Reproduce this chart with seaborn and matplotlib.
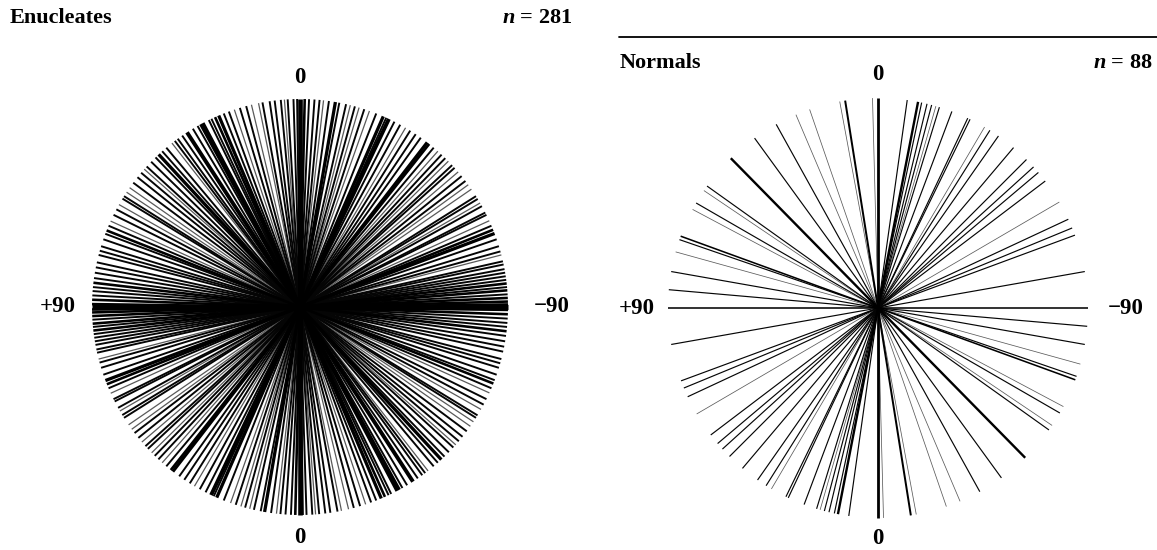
import numpy as np
import pandas as pd
import matplotlib
matplotlib.use("Agg")
import matplotlib.pyplot as plt
from matplotlib.lines import Line2D
import seaborn as sns

# ---- data: axial orientations (deg, 0 = vertical, + = toward left) and counts ----
enuc_angles = [0, 0.8, 1.8, 3.4, 4.3, 5.3, 7, 8.4, 10.4, 11.5, 13.5, 15, 16.8, 18.4, 20, 21.5,
               23, 24.1, 25.2, 26, 27.9, 28.6, 29.5, 31, 32.9, 34.5, 36, 37, 38, 40, 41.5, 42.8,
               44, 45.7, 47.5, 48.5, 49.8, 51.4, 53.3, 55, 56.5, 57.8, 58.6, 60.5, 62, 63.7, 65.6,
               67, 68.4, 69.4, 71, 73, 74.3, 75.5, 77.6, 79, 80.5, 82, 83.3, 84.5, 85.6, 86.8, 88,
               89.2, 90,
               -1.3, -2.5, -4, -5.4, -6.5, -8, -9.8, -10.9, -12.8, -14, -15.3, -16.5, -18, -19.5,
               -21.5, -23.6, -24.5, -25.3, -27, -28.8, -30.5, -32, -33.8, -35.5, -37.7, -38.4, -40,
               -41.5, -42.9, -44.3, -45.5, -47, -48, -49.5, -51, -52.7, -54, -55.5, -57.8, -58.7,
               -60, -61, -63, -63.7, -65.5, -67, -68.2, -69.3, -71, -73, -74.5, -75.5, -77.3,
               -78.2, -79.5, -80.5, -81.5, -82.5, -83.5, -84.5, -85.4, -86.5, -87.5, -88.5, -89.3]
enuc_counts = [6, 2, 2, 2, 1, 2, 2, 2, 2, 1, 1, 2, 2, 1, 2, 2,
               4, 3, 2, 2, 5, 3, 2, 2, 5, 2, 2, 2, 1, 2, 2, 4,
               2, 2, 2, 1, 2, 2, 2, 1, 1, 2, 2, 1, 2, 2, 1,
               2, 3, 2, 2, 2, 2, 2, 2, 2, 2, 2, 3, 2, 2, 2, 3,
               3, 7,
               3, 2, 2, 2, 1, 2, 4, 2, 2, 1, 2, 1, 2, 1,
               2, 4, 2, 5, 2, 2, 1, 2, 2, 2, 4, 3, 2,
               1, 2, 2, 1, 2, 2, 1, 2, 2, 1, 1, 2, 2,
               1, 2, 2, 2, 1, 2, 3, 4, 2, 2, 2, 1, 2,
               2, 2, 2, 2, 2, 3, 2, 3, 2, 3, 3, 3]

norm_angles = [0, 1.5, 9, 10.5, 19, 23, 29, 36, 44.5, 54.5, 56, 60, 62, 70, 71, 74.5, 80, 85, 90,
               -8, -11, -12, -13.5, -14.8, -16, -17, -20.6, -25.3, -26, -30.5, -32.2, -35,
               -40.2, -45, -47.8, -49.8, -52.8, -59.7, -65, -67.6, -69.7, -80]
norm_counts = [6, 1, 4, 1, 1, 1, 2, 2, 5, 2, 1, 2, 1, 3, 2, 1, 2, 2, 3,
               2, 5, 2, 2, 2, 1, 2, 2, 2, 2, 1, 2, 2,
               2, 2, 2, 2, 2, 1, 2, 2, 2, 2]

panel_titles = ["Enucleates", "Normals"]
panel_n = ["281", "88"]
dir_labels = ["0", "+90", "\u221290", "0"]


def segments(angles, counts):
    rows = []
    for i, (a, c) in enumerate(zip(angles, counts)):
        t = np.deg2rad(a)
        dx, dy = -np.sin(t), np.cos(t)
        rows.append({"line": i, "x": dx, "y": dy, "count": c})
        rows.append({"line": i, "x": -dx, "y": -dy, "count": c})
    return pd.DataFrame(rows)


sns.set_style("white")
plt.rcParams["font.family"] = ["Liberation Serif", "DejaVu Serif"]
plt.rcParams["text.color"] = "black"
plt.rcParams["mathtext.fontset"] = "custom"
plt.rcParams["mathtext.it"] = "Liberation Serif:italic:bold"
plt.rcParams["mathtext.rm"] = "Liberation Serif:bold"

W, H = 1157, 550
fig = plt.figure(figsize=(W / 100, H / 100), dpi=100)

palette = {1: "#5a5a5a", 2: "#050505", 3: "black", 4: "black", 5: "black", 6: "black", 7: "black"}

# (center_x, center_y, radius) in pixels
layouts = [(300, 307, 208), (878, 308, 210)]
width_ranges = [(0.9, 3.8), (0.55, 2.3)]
lim = 1.02
datasets = [(enuc_angles, enuc_counts), (norm_angles, norm_counts)]
label_offsets = [
    {"top": 1.105, "bottom": 1.11, "left": 1.165, "right": 1.21},
    {"top": 1.11, "bottom": 1.10, "left": 1.15, "right": 1.18},
]

for k, ((cx, cy, r), (ang, cnt)) in enumerate(zip(layouts, datasets)):
    half = lim * r
    ax = fig.add_axes([(cx - half) / W, (H - cy - half) / H, 2 * half / W, 2 * half / H])
    df = segments(ang, cnt)
    sns.lineplot(data=df, x="x", y="y", units="line", estimator=None, sort=False,
                 hue="count", palette=palette, size="count", sizes=width_ranges[k],
                 size_norm=(1, 7), legend=False, ax=ax, solid_capstyle="butt")
    ax.set_xlim(-lim, lim)
    ax.set_ylim(-lim, lim)
    ax.set_aspect("equal")
    ax.axis("off")
    o = label_offsets[k]
    kw = dict(fontsize=16.5, fontweight="bold", ha="center", va="center", clip_on=False,
              color="black")
    ax.text(0, o["top"], dir_labels[0], **kw)
    ax.text(-o["left"], 0, dir_labels[1], **kw)
    ax.text(o["right"], 0, dir_labels[2], **kw)
    ax.text(0, -o["bottom"], dir_labels[3], **kw)

tkw = dict(fontsize=16, fontweight="bold", va="center", color="black")
fig.text(10 / W, 1 - 18 / H, panel_titles[0], ha="left", **tkw)
fig.text(572 / W, 1 - 18 / H, r"$n$ = " + panel_n[0], ha="right", **tkw)
fig.text(620 / W, 1 - 63 / H, panel_titles[1], ha="left", **tkw)
fig.text(1153 / W, 1 - 63 / H, r"$n$ = " + panel_n[1], ha="right", **tkw)
fig.add_artist(Line2D([619 / W, 1.0], [1 - 37 / H, 1 - 37 / H], color="black", lw=1.3))

fig.savefig("out.png", dpi=100)
